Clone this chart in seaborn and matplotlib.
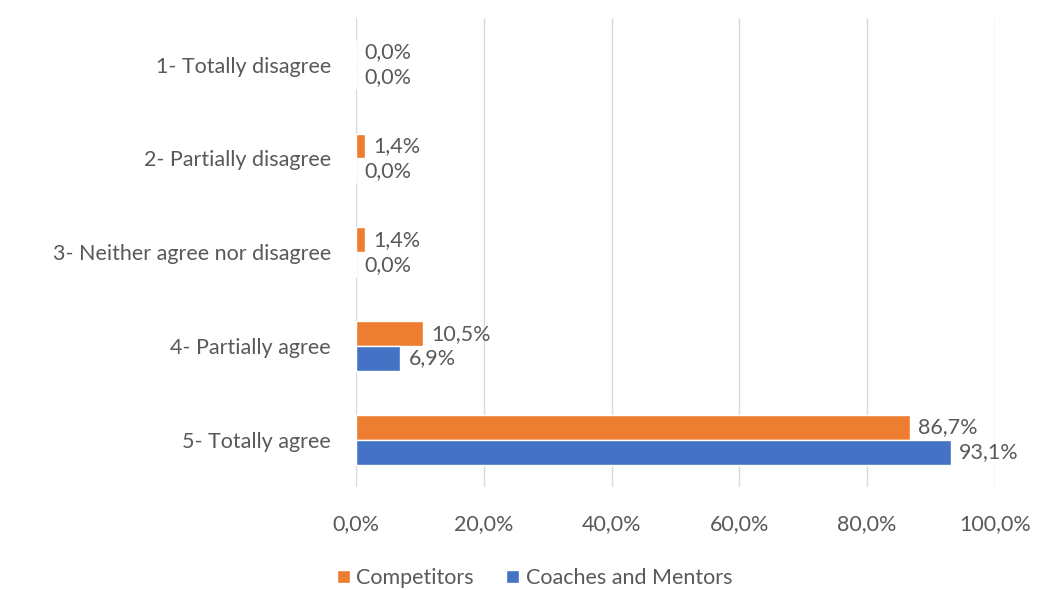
import matplotlib
matplotlib.use("Agg")
import matplotlib.pyplot as plt
import seaborn as sns
import pandas as pd
from matplotlib.patches import Patch

categories = ["1- Totally disagree", "2- Partially disagree", "3- Neither agree nor disagree",
              "4- Partially agree", "5- Totally agree"]
competitors = [0.0, 1.4, 1.4, 10.5, 86.7]
coaches = [0.0, 0.0, 0.0, 6.9, 93.1]
series_names = ["Competitors", "Coaches and Mentors"]
colors = ["#ED7D31", "#4472C4"]
xticks = [0, 20, 40, 60, 80, 100]

df = pd.DataFrame({
    "Category": categories * 2,
    "Value": competitors + coaches,
    "Group": [series_names[0]] * len(categories) + [series_names[1]] * len(categories),
})

sns.set_theme(style="white")
plt.rcParams["font.family"] = ["Lato", "DejaVu Sans"]
text_color = "#595959"
fs = 15.5

fig = plt.figure(figsize=(10.38, 5.90), dpi=100)
ax = fig.add_axes([0.343, 0.175, 0.6155, 0.795])

sns.barplot(data=df, x="Value", y="Category", hue="Group", order=categories,
            hue_order=series_names, palette=colors, orient="h", width=0.53,
            ax=ax, legend=False, saturation=1)

for cont in ax.containers:
    labels = [f"{b.get_width():.1f}%".replace(".", ",") for b in cont]
    ax.bar_label(cont, labels=labels, padding=6, fontsize=fs, color=text_color)

ax.set_xlim(0, 100)
ax.set_xticks(xticks)
ax.set_xticklabels([f"{t:.1f}%".replace(".", ",") for t in xticks])
ax.set_xlabel("")
ax.set_ylabel("")
ax.grid(axis="x", color="#D9D9D9", linewidth=1)
ax.set_axisbelow(True)
for s in ax.spines.values():
    s.set_visible(False)
ax.tick_params(axis="x", length=0, pad=20, labelsize=fs, labelcolor=text_color)
ax.tick_params(axis="y", length=0, pad=18, labelsize=fs, labelcolor=text_color)

handles = [Patch(facecolor=c, label=n) for c, n in zip(colors, series_names)]
leg = fig.legend(handles=handles, loc="center", bbox_to_anchor=(0.515, 0.02), ncol=2,
                 frameon=False, fontsize=fs, handlelength=0.6, handleheight=0.6,
                 handletextpad=0.3, columnspacing=1.5)
for t in leg.get_texts():
    t.set_color(text_color)

fig.savefig("out.png", dpi=100)
